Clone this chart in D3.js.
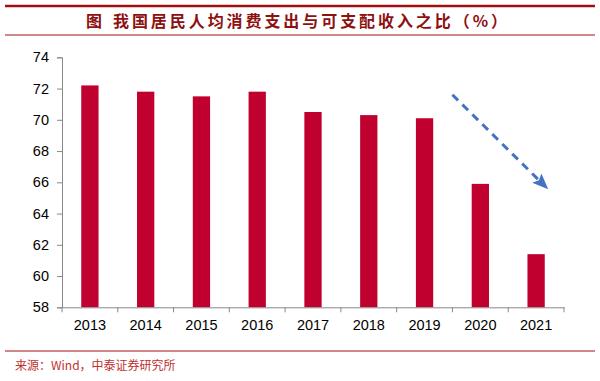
<!DOCTYPE html>
<html><head><meta charset="utf-8">
<script src="https://cdn.jsdelivr.net/npm/d3@7"></script>
<style>body{margin:0;background:#fff;}svg{display:block;}</style>
</head><body>
<svg id="c" width="600" height="381"></svg>
<script>
const years = ["2013","2014","2015","2016","2017","2018","2019","2020","2021"];
const ratio = [72.2, 71.8, 71.5, 71.8, 70.5, 70.3, 70.1, 65.9, 61.4];
const yTicks = [58,60,62,64,66,68,70,72,74];
const titleLead = "图";
const titleText = "我国居民人均消费支出与可支配收入之比（%）";
const sourceText = "来源：Wind，中泰证券研究所";

const svg = d3.select("#c");
const m = {l:62, r:36, t:57.3, b:73.7};
const W = 600, H = 381;
const x = d3.scaleBand().domain(years).range([m.l, W - m.r]).paddingInner(0.69).paddingOuter(0.345);
const y = d3.scaleLinear().domain([58,74]).range([H - m.b, m.t]);

// header lines
svg.append("line").attr("x1",5).attr("x2",595).attr("y1",6).attr("y2",6).attr("stroke","#a01010").attr("stroke-width",2.5);
svg.append("line").attr("x1",5).attr("x2",595).attr("y1",35).attr("y2",35).attr("stroke","#a01010").attr("stroke-width",1);
svg.append("text").attr("x",86).attr("y",27)
  .attr("font-family","Noto Sans CJK SC").attr("font-weight","bold").attr("font-size",16)
  .attr("fill","#8e1010").text(titleLead);
svg.append("text").attr("x",113).attr("y",27)
  .attr("textLength",394).attr("lengthAdjust","spacing")
  .attr("font-family","Noto Sans CJK SC").attr("font-weight","bold").attr("font-size",16)
  .attr("fill","#8e1010").text(titleText);

// bars
svg.selectAll("rect.bar").data(years).join("rect").attr("class","bar")
  .attr("x", d => x(d)).attr("width", x.bandwidth())
  .attr("y", (d,i) => y(ratio[i])).attr("height", (d,i) => y(58) - y(ratio[i]))
  .attr("fill","#c0002e");

// y axis
const ya = svg.append("g").attr("transform",`translate(${m.l},0)`)
  .call(d3.axisLeft(y).tickValues(yTicks).tickSize(5).tickPadding(8).tickFormat(d3.format("d")));
ya.select(".domain").attr("stroke","#888");
ya.selectAll(".tick line").attr("stroke","#888");
ya.selectAll("text").attr("font-family","Liberation Sans, Arial").attr("font-size",14.5).attr("fill","#000");

// x axis
const xa = svg.append("g").attr("transform",`translate(0,${y(58)})`)
  .call(d3.axisBottom(x).tickSize(0).tickPadding(12));
xa.select(".domain").attr("stroke","#888");
xa.selectAll("text").attr("font-family","Liberation Sans, Arial").attr("font-size",14.5).attr("fill","#000");
const step = x.step();
const bounds = d3.range(years.length + 1).map(i => m.l + i * step);
xa.selectAll("line.bt").data(bounds).join("line").attr("class","bt")
  .attr("x1", d => d).attr("x2", d => d).attr("y1",0).attr("y2",5).attr("stroke","#888");

// trend arrow (annotation)
const defs = svg.append("defs");
defs.append("marker").attr("id","ah").attr("viewBox","0 0 16 13").attr("refX",6).attr("refY",6.5)
  .attr("markerUnits","userSpaceOnUse").attr("markerWidth",16).attr("markerHeight",13).attr("orient","auto")
  .append("path").attr("d","M0,0 L16,6.5 L0,13 L3,6.5 z").attr("fill","#4472c4");
const x0 = x("2020") - x.step()*x.paddingInner()/2, y0 = y(71.6);
const xt = x("2021") + x.bandwidth()*1.2, yt = y(65.55);
const ang = Math.atan2(yt - y0, xt - x0);
const sh = 10;
svg.append("line").attr("x1",x0).attr("y1",y0)
  .attr("x2",xt - sh*Math.cos(ang)).attr("y2",yt - sh*Math.sin(ang))
  .attr("stroke","#4472c4").attr("stroke-width",3).attr("stroke-dasharray","8,6")
  .attr("marker-end","url(#ah)");

// footer
svg.append("line").attr("x1",5).attr("x2",595).attr("y1",351).attr("y2",351).attr("stroke","#a01010").attr("stroke-width",1);
svg.append("text").attr("x",15).attr("y",370).attr("font-family","Noto Sans CJK SC").attr("font-size",12)
  .attr("fill","#c0302e").text(sourceText);
</script>
</body></html>
